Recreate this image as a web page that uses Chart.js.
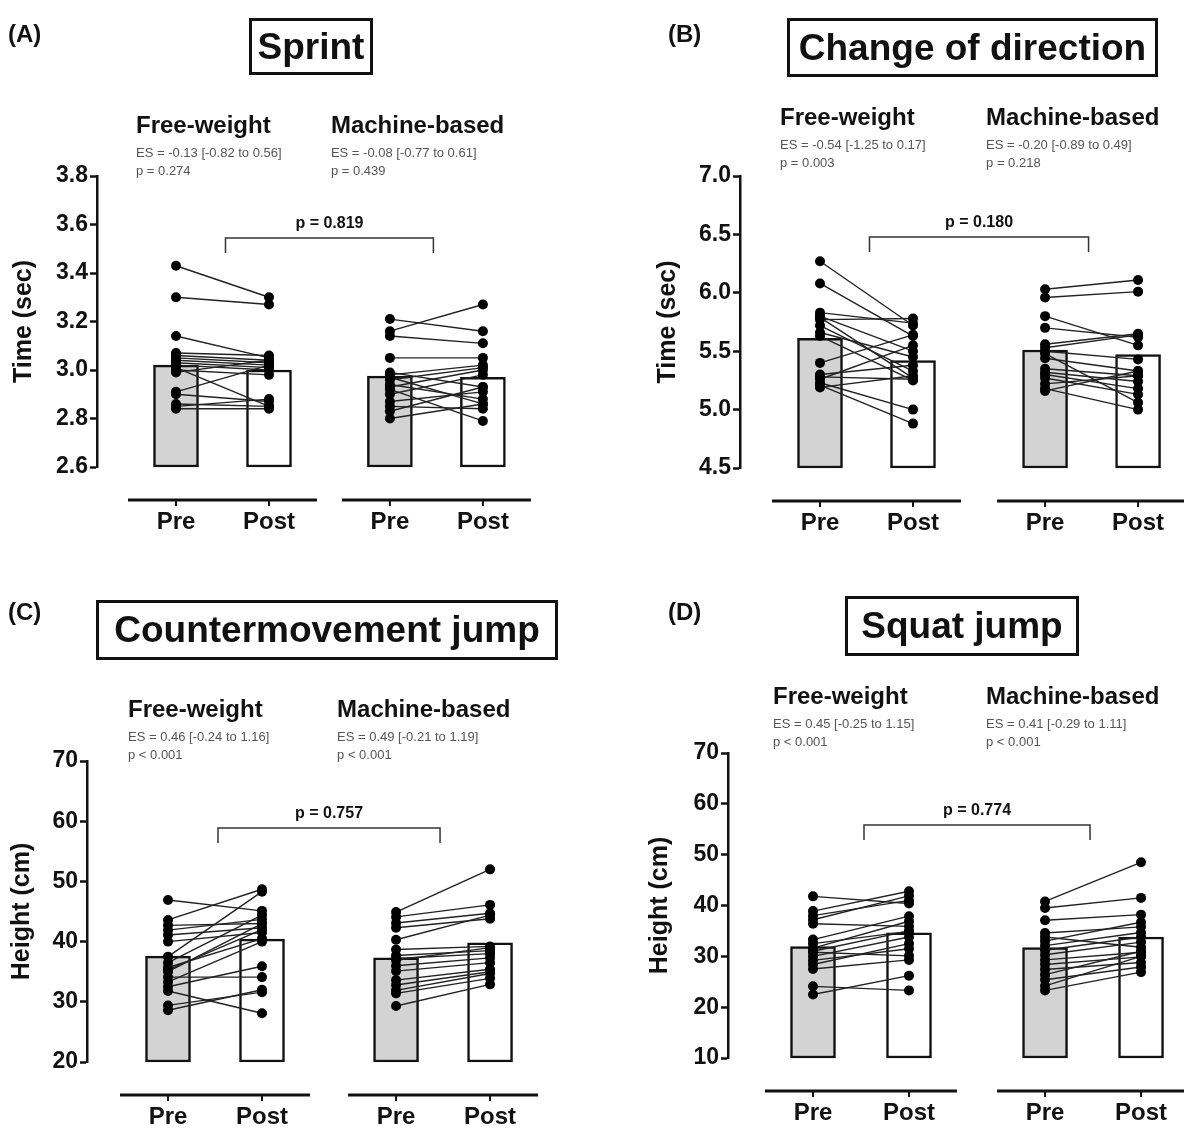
<!DOCTYPE html>
<html>
<head>
<meta charset="utf-8">
<script src="https://cdn.jsdelivr.net/npm/chart.js@4/dist/chart.umd.min.js"></script>
<style>
  body { margin: 0; background: #fff; font-family: "Liberation Sans", Arial, sans-serif; }
  #wrap { position: relative; width: 1184px; height: 1130px; overflow: hidden; }
  canvas { position: absolute; }
  .tag { position: absolute; font-weight: bold; font-size: 24px; color: #111; }
  .title { position: absolute; box-sizing: border-box; border: 3px solid #111; font-weight: bold;
           font-size: 37px; color: #111; display: flex; align-items: center; justify-content: center;
           white-space: nowrap; }
</style>
</head>
<body>
<div id="wrap">
  <canvas id="cA" width="592" height="580" style="left:0;top:0"></canvas>
  <canvas id="cB" width="700" height="580" style="left:592px;top:0"></canvas>
  <canvas id="cC" width="592" height="550" style="left:0;top:580px"></canvas>
  <canvas id="cD" width="700" height="550" style="left:592px;top:580px"></canvas>

  <div class="tag" style="left:8px;top:20px">(A)</div>
  <div class="title" style="left:249px;top:18px;width:124px;height:57px">Sprint</div>
  <div class="tag" style="left:668px;top:20px">(B)</div>
  <div class="title" style="left:787px;top:18px;width:371px;height:59px">Change of direction</div>
  <div class="tag" style="left:8px;top:598px">(C)</div>
  <div class="title" style="left:96px;top:600px;width:462px;height:60px">Countermovement jump</div>
  <div class="tag" style="left:668px;top:598px">(D)</div>
  <div class="title" style="left:845px;top:596px;width:234px;height:60px">Squat jump</div>
</div>
<script>
// tick / group labels
const xLabels = ["Pre", "Post", "Pre", "Post"];
const groupNames = ["Free-weight", "Machine-based"];

// (A) Sprint, time (sec)
const sprintTicks = [2.6, 2.8, 3.0, 3.2, 3.4, 3.6, 3.8];
const sprintBars = [3.02, 3.00, 2.975, 2.97];
const sprintFwPre  = [3.43, 3.30, 3.14, 3.07, 3.06, 3.05, 3.04, 3.03, 3.02, 3.01, 3.00, 2.99, 2.91, 2.90, 2.86, 2.85, 2.84];
const sprintFwPost = [3.30, 3.27, 3.05, 3.06, 3.04, 3.03, 3.02, 3.01, 3.00, 2.85, 2.98, 3.04, 3.02, 2.87, 2.85, 2.88, 2.84];
const sprintMbPre  = [3.21, 3.16, 3.14, 3.05, 2.99, 2.98, 2.97, 2.96, 2.94, 2.93, 2.92, 2.90, 2.87, 2.85, 2.83, 2.80];
const sprintMbPost = [3.16, 3.27, 3.11, 3.05, 2.93, 3.02, 2.86, 3.01, 2.88, 3.00, 2.79, 2.98, 2.91, 2.84, 2.93, 2.86];
const sprintStats = ["ES = -0.13 [-0.82 to 0.56]", "p = 0.274", "ES = -0.08 [-0.77 to 0.61]", "p = 0.439", "p = 0.819"];

// (B) Change of direction, time (sec)
const codTicks = [4.5, 5.0, 5.5, 6.0, 6.5, 7.0];
const codBars = [5.61, 5.42, 5.51, 5.47];
const codFwPre  = [6.27, 6.08, 5.83, 5.80, 5.79, 5.77, 5.72, 5.66, 5.63, 5.40, 5.30, 5.28, 5.26, 5.23, 5.21, 5.19];
const codFwPost = [5.72, 5.63, 5.74, 5.50, 5.27, 5.78, 5.33, 5.45, 5.25, 5.64, 5.38, 5.26, 5.55, 5.00, 4.88, 5.29];
const codMbPre  = [6.03, 5.96, 5.80, 5.70, 5.56, 5.53, 5.50, 5.48, 5.44, 5.35, 5.32, 5.30, 5.27, 5.22, 5.18, 5.16];
const codMbPost = [6.11, 6.01, 5.55, 5.62, 5.65, 5.64, 5.43, 5.06, 5.33, 5.29, 5.24, 5.18, 5.13, 5.29, 5.00, 5.33];
const codStats = ["ES = -0.54 [-1.25 to 0.17]", "p = 0.003", "ES = -0.20 [-0.89 to 0.49]", "p = 0.218", "p = 0.180"];

// (C) Countermovement jump, height (cm)
const cmjTicks = [20, 30, 40, 50, 60, 70];
const cmjBars = [37.6, 40.4, 37.3, 39.8];
const cmjFwPre  = [46.9, 43.6, 42.7, 41.9, 41.1, 40.0, 37.5, 36.5, 35.7, 35.0, 34.1, 33.3, 32.5, 31.8, 29.4, 28.6, 35.3];
const cmjFwPost = [45.1, 48.7, 43.0, 43.7, 42.3, 41.5, 48.3, 44.4, 40.5, 43.0, 34.1, 40.0, 35.9, 28.1, 31.6, 32.0, 42.0];
const cmjMbPre  = [44.9, 44.1, 43.1, 42.3, 40.3, 38.7, 37.7, 36.9, 36.0, 35.1, 33.6, 32.8, 31.9, 31.4, 29.3, 37.2];
const cmjMbPost = [52.0, 46.1, 44.7, 43.8, 44.4, 39.2, 38.5, 39.0, 37.3, 36.5, 35.4, 35.0, 34.7, 33.9, 32.9, 38.0];
const cmjStats = ["ES = 0.46 [-0.24 to 1.16]", "p < 0.001", "ES = 0.49 [-0.21 to 1.19]", "p < 0.001", "p = 0.757"];

// (D) Squat jump, height (cm)
const sjTicks = [10, 20, 30, 40, 50, 60, 70];
const sjBars = [31.9, 34.6, 31.7, 33.8];
const sjFwPre  = [41.8, 38.9, 38.0, 37.2, 36.4, 33.3, 32.5, 31.6, 30.8, 30.0, 29.2, 28.4, 27.5, 24.1, 22.5, 31.0];
const sjFwPost = [40.4, 42.8, 41.0, 41.9, 35.9, 37.9, 34.9, 36.9, 30.1, 33.8, 31.5, 32.5, 29.3, 23.3, 26.2, 35.0];
const sjMbPre  = [40.8, 39.5, 37.1, 34.6, 33.8, 33.0, 32.1, 31.2, 30.3, 29.3, 28.4, 27.4, 26.4, 25.4, 24.2, 23.3];
const sjMbPost = [48.5, 41.5, 38.2, 35.8, 31.8, 36.7, 34.7, 33.8, 32.8, 30.8, 29.9, 28.8, 31.0, 27.9, 30.0, 26.9];
const sjStats = ["ES = 0.45 [-0.25 to 1.15]", "p < 0.001", "ES = 0.41 [-0.29 to 1.11]", "p < 0.001", "p = 0.774"];

Chart.defaults.font.family = '"Liberation Sans", Arial, sans-serif';

function makePanel(id, d, lay) {
  const canvas = document.getElementById(id);
  const W = canvas.width, H = canvas.height;
  const xPos = [0, 1, lay.gap, lay.gap + 1];
  const yMin = d.ticks[0];

  // bars float from the axis minimum up to the group mean
  const datasets = [{
    type: "bar",
    data: xPos.map((x, i) => ({ x: x, y: [yMin, d.bars[i]] })),
    backgroundColor: ["#d3d3d3", "#fff", "#d3d3d3", "#fff"],
    borderColor: "#111",
    borderWidth: 2.5,
    borderSkipped: false,
    barThickness: 45,
    clip: false,
    order: 10
  }];
  [[d.fwPre, d.fwPost], [d.mbPre, d.mbPost]].forEach(([pre, post], g) => {
    pre.forEach((v, i) => {
      datasets.push({
        type: "line",
        data: [{ x: xPos[g * 2], y: v }, { x: xPos[g * 2 + 1], y: post[i] }],
        borderColor: "#222",
        borderWidth: 1.4,
        pointRadius: 5,
        pointBackgroundColor: "#000",
        pointBorderWidth: 0,
        clip: false,
        order: 1
      });
    });
  });

  const annot = {
    id: "annot",
    afterDraw(chart) {
      const { ctx, chartArea } = chart;
      const px = xPos.map(v => chart.scales.x.getPixelForValue(v));
      ctx.save();
      ctx.strokeStyle = "#111";
      // split x axis
      const ay = chartArea.bottom + 33;
      [0, 2].forEach(g => {
        ctx.lineWidth = 3;
        ctx.beginPath();
        ctx.moveTo(px[g] - 48, ay);
        ctx.lineTo(px[g + 1] + 48, ay);
        ctx.stroke();
        ctx.lineWidth = 2;
        [px[g], px[g + 1]].forEach(x => {
          ctx.beginPath();
          ctx.moveTo(x, ay);
          ctx.lineTo(x, ay + 6);
          ctx.stroke();
        });
      });
      // group headings + stats
      ctx.textAlign = "left";
      ctx.textBaseline = "middle";
      const hx = [px[0] - 40, px[2] - 59];
      hx.forEach((x, g) => {
        ctx.fillStyle = "#111";
        ctx.font = 'bold 24px "Liberation Sans", Arial, sans-serif';
        ctx.fillText(groupNames[g], x, lay.headY);
        ctx.fillStyle = "#555";
        ctx.font = '13px "Liberation Sans", Arial, sans-serif';
        ctx.fillText(d.stats[g * 2], x, lay.headY + 27);
        ctx.fillText(d.stats[g * 2 + 1], x, lay.headY + 45);
      });
      // between-group bracket
      const bl = (px[0] + px[1]) / 2 + 3, br = (px[2] + px[3]) / 2 - 3;
      ctx.strokeStyle = "#333";
      ctx.lineWidth = 1.5;
      ctx.beginPath();
      ctx.moveTo(bl, lay.bracketY + 15);
      ctx.lineTo(bl, lay.bracketY);
      ctx.lineTo(br, lay.bracketY);
      ctx.lineTo(br, lay.bracketY + 15);
      ctx.stroke();
      ctx.fillStyle = "#111";
      ctx.textAlign = "center";
      ctx.font = 'bold 16px "Liberation Sans", Arial, sans-serif';
      ctx.fillText(d.stats[4], (bl + br) / 2, lay.bracketY - 14);
      ctx.restore();
    }
  };

  return new Chart(canvas, {
    type: "bar",
    data: { datasets },
    plugins: [annot],
    options: {
      responsive: false,
      animation: false,
      events: [],
      layout: { padding: { left: 0, top: lay.top, right: W - lay.right, bottom: 0 } },
      plugins: { legend: { display: false }, tooltip: { enabled: false } },
      scales: {
        x: {
          type: "linear",
          offset: false,
          min: (lay.left - lay.pre1) / lay.ppu,
          max: (lay.right - lay.pre1) / lay.ppu,
          afterFit: s => { s.height = H - lay.bottom; },
          afterBuildTicks: s => { s.ticks = xPos.map(v => ({ value: v })); },
          grid: { display: false, drawTicks: false, offset: false },
          border: { display: false },
          ticks: {
            callback: (v, i) => xLabels[i],
            autoSkip: false, maxRotation: 0, padding: 41,
            color: "#111", font: { size: 24, weight: "bold" }
          }
        },
        y: {
          min: yMin,
          max: d.ticks[d.ticks.length - 1],
          afterFit: s => { s.width = lay.left; },
          afterBuildTicks: s => { s.ticks = d.ticks.map(v => ({ value: v })); },
          grid: { drawOnChartArea: false, drawTicks: true, tickLength: 7, tickWidth: 2.5, tickColor: "#111" },
          border: { display: true, width: 2.5, color: "#111" },
          ticks: {
            callback: v => v.toFixed(d.dec),
            padding: 2, color: "#111", font: { size: 23, weight: "bold" }
          },
          title: {
            display: true, text: d.yTitle, color: "#111",
            font: { size: 25, weight: "bold" },
            padding: { top: lay.titlePad, bottom: 0 }
          }
        }
      }
    }
  });
}

makePanel("cA",
  { bars: sprintBars, fwPre: sprintFwPre, fwPost: sprintFwPost, mbPre: sprintMbPre, mbPost: sprintMbPost,
    stats: sprintStats, ticks: sprintTicks, dec: 1, yTitle: "Time (sec)" },
  { left: 97, top: 176, bottom: 467, right: 560, pre1: 176, ppu: 93, gap: 2.3, headY: 126, bracketY: 238, titlePad: 9 });

makePanel("cB",
  { bars: codBars, fwPre: codFwPre, fwPost: codFwPost, mbPre: codMbPre, mbPost: codMbPost,
    stats: codStats, ticks: codTicks, dec: 1, yTitle: "Time (sec)" },
  { left: 148, top: 176, bottom: 468, right: 650, pre1: 228, ppu: 93, gap: 2.42, headY: 118, bracketY: 237, titlePad: 61 });

makePanel("cC",
  { bars: cmjBars, fwPre: cmjFwPre, fwPost: cmjFwPost, mbPre: cmjMbPre, mbPost: cmjMbPost,
    stats: cmjStats, ticks: cmjTicks, dec: 0, yTitle: "Height (cm)" },
  { left: 87, top: 181, bottom: 482, right: 570, pre1: 168, ppu: 94, gap: 2.426, headY: 130, bracketY: 248, titlePad: 7 });

makePanel("cD",
  { bars: sjBars, fwPre: sjFwPre, fwPost: sjFwPost, mbPre: sjMbPre, mbPost: sjMbPost,
    stats: sjStats, ticks: sjTicks, dec: 0, yTitle: "Height (cm)" },
  { left: 136, top: 173, bottom: 478, right: 650, pre1: 221, ppu: 96, gap: 2.417, headY: 117, bracketY: 245, titlePad: 53 });
</script>
</body>
</html>
